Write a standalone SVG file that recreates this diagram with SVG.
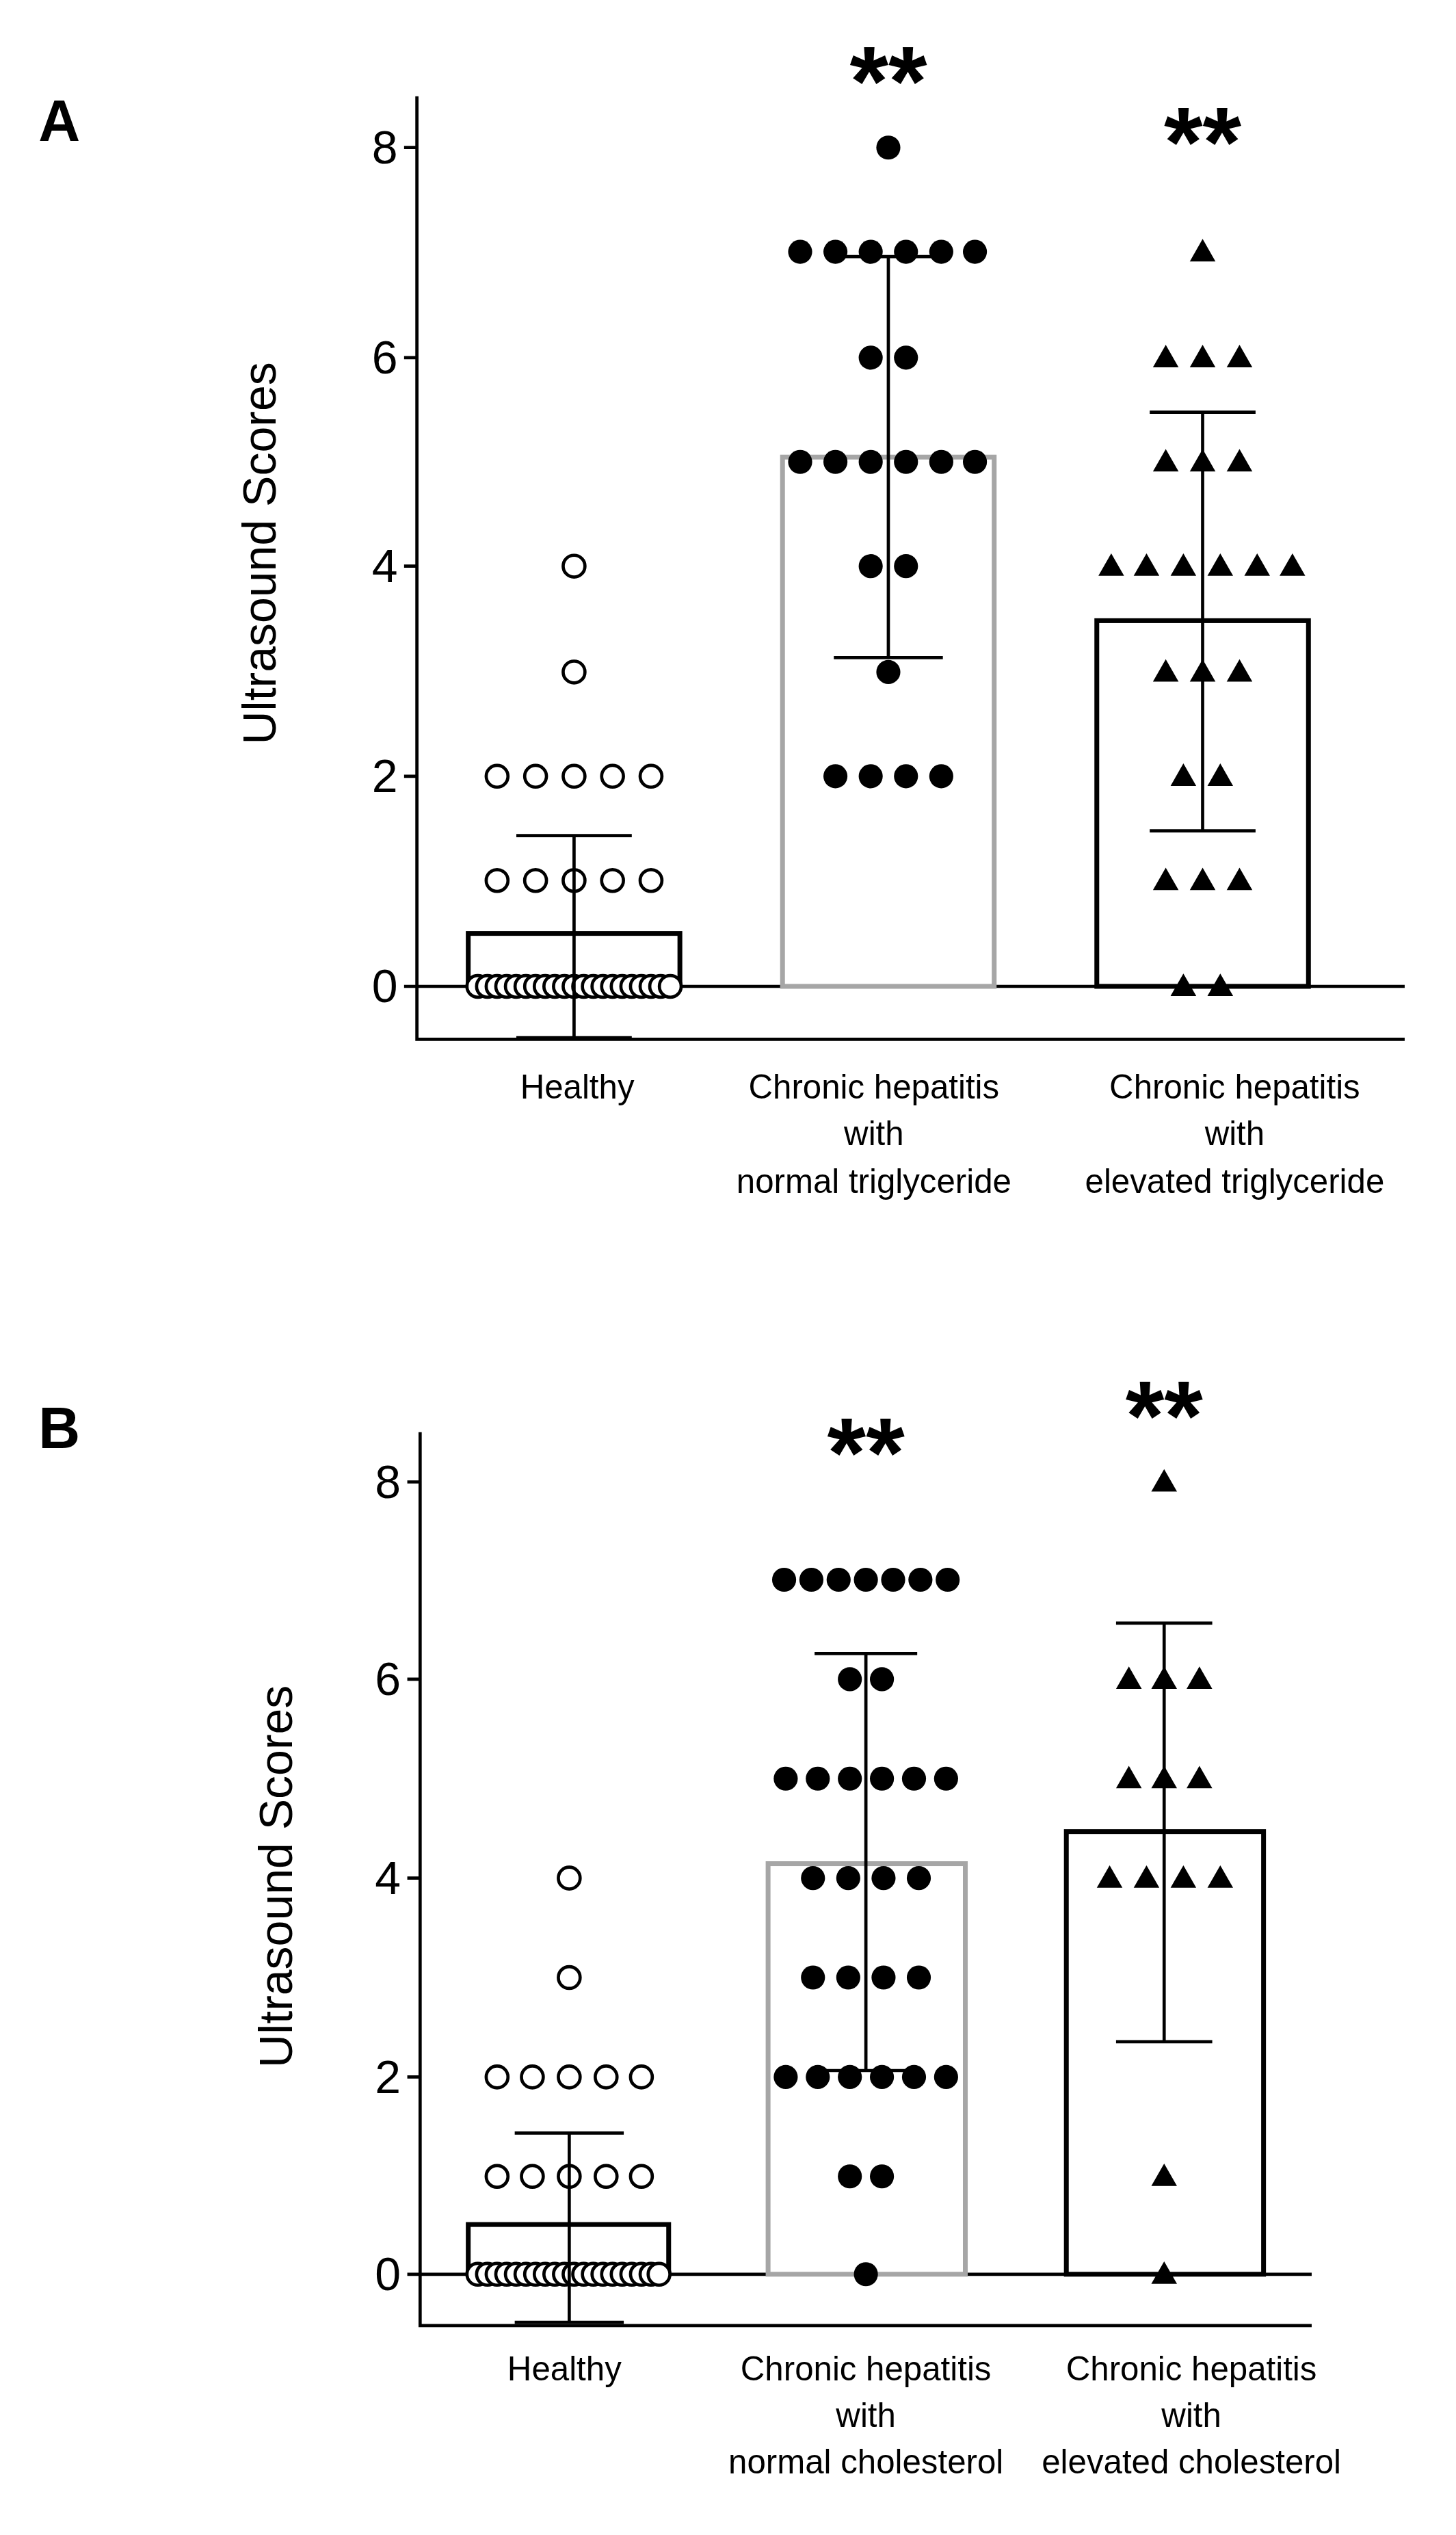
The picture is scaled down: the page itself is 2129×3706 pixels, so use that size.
<svg xmlns="http://www.w3.org/2000/svg" xmlns:xlink="http://www.w3.org/1999/xlink" width="2129" height="3706" viewBox="0 0 2129 3706">
<style>
.ax{stroke:#000;stroke-width:2;fill:none}
.barK{stroke:#000;stroke-width:3;fill:#fff}
.barG{stroke:#a6a6a6;stroke-width:3;fill:#fff}
.eb{stroke:#000;stroke-width:2;fill:none}
.tk{font-family:"Liberation Sans",Arial,sans-serif;font-size:29px;text-anchor:end}
.yt{font-family:"Liberation Sans",Arial,sans-serif;font-size:29px;text-anchor:middle}
.xl{font-family:"Liberation Sans",Arial,sans-serif;font-size:21px;text-anchor:middle}
.pl{font-family:"Liberation Sans",Arial,sans-serif;font-size:36px;font-weight:bold}
.st{font-family:"Liberation Sans",Arial,sans-serif;font-size:62px;font-weight:bold;text-anchor:middle}
</style>
<defs>
<circle id="d" r="7.5" fill="#000"/>
<circle id="o" r="6.8" fill="#fff" stroke="#000" stroke-width="2"/>
<polygon id="t" points="0,-8 8,6 -8,6" fill="#000"/>
</defs>
<rect width="2129" height="3706" fill="#fff"/>
<g transform="scale(2.3447)">
<!-- Panel A -->
<g id="panelA">
<text class="pl" x="24" y="88">A</text>
<text class="yt" transform="translate(172,345) rotate(-90)">Ultrasound Scores</text>
<g id="axesA">
<path class="ax" d="M260,60 V648 H876 M252,92 H260 M252,223 H260 M252,353 H260 M252,484 H260 M252,615 H876"/>
<text class="tk" x="248" y="102">8</text>
<text class="tk" x="248" y="233">6</text>
<text class="tk" x="248" y="363">4</text>
<text class="tk" x="248" y="494">2</text>
<text class="tk" x="248" y="625">0</text>
</g>
<g id="A1">
<rect class="barK" x="292" y="582" width="132" height="33"/>
<g>
<use href="#o" x="298" y="615"/><use href="#o" x="304" y="615"/><use href="#o" x="310" y="615"/><use href="#o" x="316" y="615"/><use href="#o" x="322" y="615"/><use href="#o" x="328" y="615"/><use href="#o" x="334" y="615"/><use href="#o" x="340" y="615"/><use href="#o" x="346" y="615"/><use href="#o" x="352" y="615"/><use href="#o" x="358" y="615"/><use href="#o" x="364" y="615"/><use href="#o" x="370" y="615"/><use href="#o" x="376" y="615"/><use href="#o" x="382" y="615"/><use href="#o" x="388" y="615"/><use href="#o" x="394" y="615"/><use href="#o" x="400" y="615"/><use href="#o" x="406" y="615"/><use href="#o" x="412" y="615"/><use href="#o" x="418" y="615"/>
<use href="#o" x="310" y="549"/><use href="#o" x="334" y="549"/><use href="#o" x="358" y="549"/><use href="#o" x="382" y="549"/><use href="#o" x="406" y="549"/>
<use href="#o" x="310" y="484"/><use href="#o" x="334" y="484"/><use href="#o" x="358" y="484"/><use href="#o" x="382" y="484"/><use href="#o" x="406" y="484"/>
<use href="#o" x="358" y="419"/><use href="#o" x="358" y="353"/>
</g>
<path class="eb" d="M358,521 V647 M322,521 H394 M322,647 H394"/>
</g>
<g id="A2">
<rect class="barG" x="488" y="285" width="132" height="330"/>
<g>
<use href="#d" x="554" y="92"/>
<use href="#d" x="499" y="157"/><use href="#d" x="521" y="157"/><use href="#d" x="543" y="157"/><use href="#d" x="565" y="157"/><use href="#d" x="587" y="157"/><use href="#d" x="608" y="157"/>
<use href="#d" x="543" y="223"/><use href="#d" x="565" y="223"/>
<use href="#d" x="499" y="288"/><use href="#d" x="521" y="288"/><use href="#d" x="543" y="288"/><use href="#d" x="565" y="288"/><use href="#d" x="587" y="288"/><use href="#d" x="608" y="288"/>
<use href="#d" x="543" y="353"/><use href="#d" x="565" y="353"/>
<use href="#d" x="554" y="419"/>
<use href="#d" x="521" y="484"/><use href="#d" x="543" y="484"/><use href="#d" x="565" y="484"/><use href="#d" x="587" y="484"/>
</g>
<path class="eb" d="M554,160 V410 M520,160 H588 M520,410 H588"/>
<text class="st" x="554" y="72">**</text>
</g>
<g id="A3">
<rect class="barK" x="684" y="387" width="132" height="228"/>
<g>
<use href="#t" x="750" y="157"/>
<use href="#t" x="727" y="223"/><use href="#t" x="750" y="223"/><use href="#t" x="773" y="223"/>
<use href="#t" x="727" y="288"/><use href="#t" x="750" y="288"/><use href="#t" x="773" y="288"/>
<use href="#t" x="693" y="353"/><use href="#t" x="715" y="353"/><use href="#t" x="738" y="353"/><use href="#t" x="761" y="353"/><use href="#t" x="784" y="353"/><use href="#t" x="806" y="353"/>
<use href="#t" x="727" y="419"/><use href="#t" x="750" y="419"/><use href="#t" x="773" y="419"/>
<use href="#t" x="738" y="484"/><use href="#t" x="761" y="484"/>
<use href="#t" x="727" y="549"/><use href="#t" x="750" y="549"/><use href="#t" x="773" y="549"/>
<use href="#t" x="738" y="615"/><use href="#t" x="761" y="615"/>
</g>
<path class="eb" d="M750,257 V518 M717,257 H783 M717,518 H783"/>
<text class="st" x="750" y="110">**</text>
</g>
<g id="labelsA">
<text class="xl" x="360" y="685">Healthy</text>
<text class="xl" x="545" y="685">Chronic hepatitis</text>
<text class="xl" x="545" y="714">with</text>
<text class="xl" x="545" y="744">normal triglyceride</text>
<text class="xl" x="770" y="685">Chronic hepatitis</text>
<text class="xl" x="770" y="714">with</text>
<text class="xl" x="770" y="744">elevated triglyceride</text>
</g>
</g>
<!-- Panel B -->
<g id="panelB">
<text class="pl" x="24" y="903">B</text>
<text class="yt" transform="translate(182,1170) rotate(-90)">Ultrasound Scores</text>
<g id="axesB">
<path class="ax" d="M262,893 V1450 H818 M254,924 H262 M254,1047 H262 M254,1171 H262 M254,1295 H262 M254,1418 H818"/>
<text class="tk" x="250" y="934">8</text>
<text class="tk" x="250" y="1057">6</text>
<text class="tk" x="250" y="1181">4</text>
<text class="tk" x="250" y="1305">2</text>
<text class="tk" x="250" y="1428">0</text>
</g>
<g id="B1">
<rect class="barK" x="292" y="1387" width="125" height="31"/>
<g>
<use href="#o" x="298" y="1418"/><use href="#o" x="304" y="1418"/><use href="#o" x="310" y="1418"/><use href="#o" x="316" y="1418"/><use href="#o" x="322" y="1418"/><use href="#o" x="328" y="1418"/><use href="#o" x="334" y="1418"/><use href="#o" x="340" y="1418"/><use href="#o" x="346" y="1418"/><use href="#o" x="352" y="1418"/><use href="#o" x="358" y="1418"/><use href="#o" x="364" y="1418"/><use href="#o" x="370" y="1418"/><use href="#o" x="376" y="1418"/><use href="#o" x="382" y="1418"/><use href="#o" x="388" y="1418"/><use href="#o" x="394" y="1418"/><use href="#o" x="400" y="1418"/><use href="#o" x="406" y="1418"/><use href="#o" x="411" y="1418"/>
<use href="#o" x="310" y="1357"/><use href="#o" x="332" y="1357"/><use href="#o" x="355" y="1357"/><use href="#o" x="378" y="1357"/><use href="#o" x="400" y="1357"/>
<use href="#o" x="310" y="1295"/><use href="#o" x="332" y="1295"/><use href="#o" x="355" y="1295"/><use href="#o" x="378" y="1295"/><use href="#o" x="400" y="1295"/>
<use href="#o" x="355" y="1233"/><use href="#o" x="355" y="1171"/>
</g>
<path class="eb" d="M355,1330 V1448 M321,1330 H389 M321,1448 H389"/>
</g>
<g id="B2">
<rect class="barG" x="479" y="1162" width="123" height="256"/>
<g>
<use href="#d" x="489" y="985"/><use href="#d" x="506" y="985"/><use href="#d" x="523" y="985"/><use href="#d" x="540" y="985"/><use href="#d" x="557" y="985"/><use href="#d" x="574" y="985"/><use href="#d" x="591" y="985"/>
<use href="#d" x="530" y="1047"/><use href="#d" x="550" y="1047"/>
<use href="#d" x="490" y="1109"/><use href="#d" x="510" y="1109"/><use href="#d" x="530" y="1109"/><use href="#d" x="550" y="1109"/><use href="#d" x="570" y="1109"/><use href="#d" x="590" y="1109"/>
<use href="#d" x="507" y="1171"/><use href="#d" x="529" y="1171"/><use href="#d" x="551" y="1171"/><use href="#d" x="573" y="1171"/>
<use href="#d" x="507" y="1233"/><use href="#d" x="529" y="1233"/><use href="#d" x="551" y="1233"/><use href="#d" x="573" y="1233"/>
<use href="#d" x="490" y="1295"/><use href="#d" x="510" y="1295"/><use href="#d" x="530" y="1295"/><use href="#d" x="550" y="1295"/><use href="#d" x="570" y="1295"/><use href="#d" x="590" y="1295"/>
<use href="#d" x="530" y="1357"/><use href="#d" x="550" y="1357"/>
<use href="#d" x="540" y="1418"/>
</g>
<path class="eb" d="M540,1031 V1291 M508,1031 H572 M508,1291 H572"/>
<text class="st" x="540" y="927">**</text>
</g>
<g id="B3">
<rect class="barK" x="665" y="1142" width="123" height="276"/>
<g>
<use href="#t" x="726" y="924"/>
<use href="#t" x="704" y="1047"/><use href="#t" x="726" y="1047"/><use href="#t" x="748" y="1047"/>
<use href="#t" x="704" y="1109"/><use href="#t" x="726" y="1109"/><use href="#t" x="748" y="1109"/>
<use href="#t" x="692" y="1171"/><use href="#t" x="715" y="1171"/><use href="#t" x="738" y="1171"/><use href="#t" x="761" y="1171"/>
<use href="#t" x="726" y="1357"/>
<use href="#t" x="726" y="1418"/>
</g>
<path class="eb" d="M726,1012 V1273 M696,1012 H756 M696,1273 H756"/>
<text class="st" x="726" y="904">**</text>
</g>
<g id="labelsB">
<text class="xl" x="352" y="1484">Healthy</text>
<text class="xl" x="540" y="1484">Chronic hepatitis</text>
<text class="xl" x="540" y="1513">with</text>
<text class="xl" x="540" y="1542">normal cholesterol</text>
<text class="xl" x="743" y="1484">Chronic hepatitis</text>
<text class="xl" x="743" y="1513">with</text>
<text class="xl" x="743" y="1542">elevated cholesterol</text>
</g>
</g>
</g>
</svg>
